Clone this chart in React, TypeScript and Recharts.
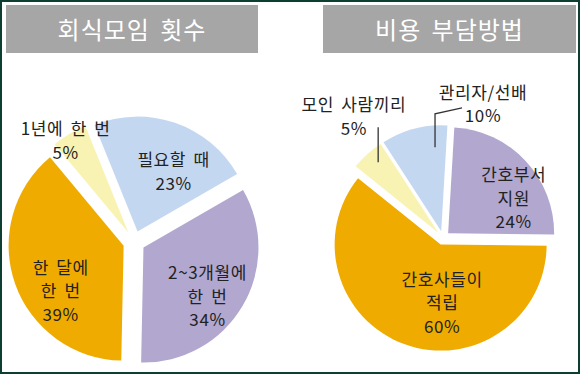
import { Cell, Pie, PieChart, Sector } from 'recharts'

const FREQ_TITLE = '회식모임 횟수'
const FREQ_NAMES = ['필요할 때', '2~3개월에\n한 번', '한 달에\n한 번', '1년에 한 번']
const FREQ_VALUES = [23, 34, 39, 5]

const COST_TITLE = '비용 부담방법'
const COST_NAMES = ['관리자/선배', '간호부서\n지원', '간호사들이\n적립', '모인 사람끼리']
const COST_VALUES = [10, 24, 60, 5]

const BLUE = '#C4D7F0'
const PURPLE = '#B1A7CF'
const ORANGE = '#EFAB00'
const YELLOW = '#F8F3B2'
const SLICE_COLORS = [BLUE, PURPLE, ORANGE, YELLOW]

const FONT = "'Noto Sans CJK KR', 'Noto Sans', sans-serif"
const RAD = Math.PI / 180

type Leader = { dA: number; k: number; via: number; to?: [number, number] }
type LabelSpot = { dA: number; k: number; leader?: Leader }

// where each label sits, relative to its slice's mid angle
const FREQ_SPOTS: LabelSpot[] = [
  { dA: -10, k: 0.71 },
  { dA: -5.4, k: 0.79 },
  { dA: 13.7, k: 0.76 },
  { dA: 2.8, k: 1.07 },
]
const COST_SPOTS: LabelSpot[] = [
  { dA: -31.3, k: 1.33, leader: { dA: -9.8, k: 0.86, via: 11, to: [-21, 5] } },
  { dA: -13, k: 0.77 },
  { dA: 19, k: 0.6 },
  { dA: -6.1, k: 1.43, leader: { dA: -1.5, k: 0.94, via: 12 } },
]

const polar = (cx: number, cy: number, r: number, a: number) => ({
  x: cx + r * Math.cos(-a * RAD),
  y: cy + r * Math.sin(-a * RAD),
})

const explode = (offset: number) => (props: any) => {
  const p = polar(props.cx, props.cy, offset, props.midAngle)
  return <Sector {...props} cx={p.x} cy={p.y} stroke="none" />
}

const makeLabel = (names: string[], values: number[], spots: LabelSpot[]) => (props: any) => {
  const { cx, cy, midAngle, outerRadius, index } = props
  const spot = spots[index]
  const c = polar(cx, cy, outerRadius * spot.k, midAngle + spot.dA)
  const lines = [...names[index].split('\n'), `${values[index]}%`]
  const lh = 23.5
  const top = c.y - ((lines.length - 1) * lh) / 2
  let leader = null
  if (spot.leader) {
    const l = spot.leader
    const end = polar(cx, cy, outerRadius * l.k, midAngle + l.dA)
    const pts = [[end.x, end.y], [end.x, c.y + l.via]]
    if (l.to) pts.push([c.x + l.to[0], c.y + l.to[1]])
    leader = (
      <polyline points={pts.map((p) => p.join(',')).join(' ')} fill="none" stroke="#333" strokeWidth={1.3} />
    )
  }
  return (
    <g key={`lbl-${index}`}>
      {leader}
      {lines.map((t, i) => (
        <text
          key={i}
          x={c.x}
          y={top + i * lh}
          textAnchor="middle"
          dominantBaseline="central"
          fontFamily={FONT}
          fontSize={17}
          letterSpacing={0.6}
          wordSpacing={3}
          fill="#222"
        >
          {t}
        </text>
      ))}
    </g>
  )
}

const freqData = FREQ_NAMES.map((name, i) => ({ name, value: FREQ_VALUES[i] }))
const costData = COST_NAMES.map((name, i) => ({ name, value: COST_VALUES[i] }))

const headerStyle = (left: number, width: number): React.CSSProperties => ({
  position: 'absolute',
  left,
  top: 5,
  width,
  height: 48,
  lineHeight: '48px',
  background: '#A6A6A6',
  color: '#fff',
  textAlign: 'center',
  fontFamily: FONT,
  fontSize: 24,
  letterSpacing: 1,
  wordSpacing: 4,
})

export default function App() {
  return (
    <div style={{ position: 'absolute', left: 0, top: 0, width: 580, height: 374, background: '#fff' }}>
      <PieChart width={580} height={374} margin={{ top: 0, right: 0, bottom: 0, left: 0 }}>
        <Pie
          data={freqData}
          dataKey="value"
          nameKey="name"
          cx={134}
          cy={242}
          outerRadius={115}
          startAngle={112}
          endAngle={-248}
          stroke="none"
          shape={explode(11)}
          labelLine={false}
          label={makeLabel(FREQ_NAMES, FREQ_VALUES, FREQ_SPOTS)}
          isAnimationActive={false}
        >
          {freqData.map((d, i) => (
            <Cell key={d.name} fill={SLICE_COLORS[i]} />
          ))}
        </Pie>
        <Pie
          data={costData}
          dataKey="value"
          nameKey="name"
          cx={443}
          cy={238}
          outerRadius={106}
          startAngle={123}
          endAngle={-237}
          stroke="none"
          shape={explode(7)}
          labelLine={false}
          label={makeLabel(COST_NAMES, COST_VALUES, COST_SPOTS)}
          isAnimationActive={false}
        >
          {costData.map((d, i) => (
            <Cell key={d.name} fill={SLICE_COLORS[i]} />
          ))}
        </Pie>
      </PieChart>
      <div style={headerStyle(6, 252)}>{FREQ_TITLE}</div>
      <div style={headerStyle(323, 253)}>{COST_TITLE}</div>
      <div
        style={{
          position: 'absolute',
          inset: 0,
          border: '2px solid #0E3D31',
          pointerEvents: 'none',
        }}
      />
    </div>
  )
}
